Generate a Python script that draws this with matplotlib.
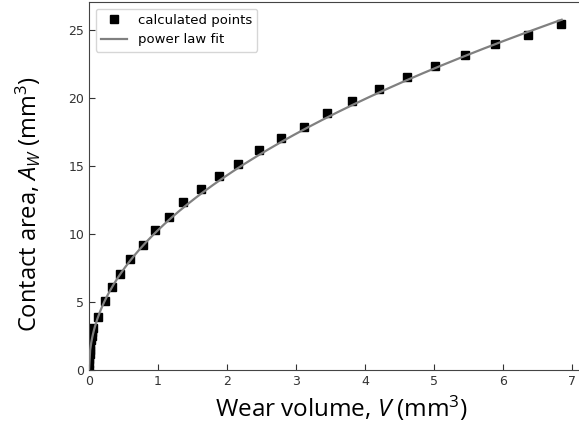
import numpy as np
import matplotlib
matplotlib.use("Agg")
import matplotlib.pyplot as plt

# calculated points
wear_volume = [0.0, 0.003, 0.006, 0.01, 0.015, 0.02, 0.03, 0.04, 0.05, 0.065,
               0.13, 0.23, 0.33, 0.45, 0.59, 0.78, 0.96, 1.16, 1.36, 1.62,
               1.88, 2.16, 2.46, 2.78, 3.12, 3.45, 3.81, 4.20, 4.61, 5.01,
               5.45, 5.88, 6.36, 6.84]
contact_area = [0.0, 0.5, 0.8, 1.2, 1.5, 1.8, 2.2, 2.5, 2.8, 3.1,
                3.9, 5.1, 6.1, 7.1, 8.2, 9.2, 10.3, 11.3, 12.35, 13.3,
                14.3, 15.2, 16.2, 17.1, 17.9, 18.9, 19.8, 20.7, 21.6, 22.4,
                23.2, 24.0, 24.7, 25.5]

# power law fit A = a * V**b
fit_a = 10.3
fit_b = 0.477

plt.rcParams['mathtext.fontset'] = 'custom'
plt.rcParams['mathtext.rm'] = 'Open Sans'
plt.rcParams['mathtext.it'] = 'Open Sans:italic'

fig = plt.figure(figsize=(5.79, 4.32), dpi=100)
ax = fig.add_axes([0.1537, 0.1435, 0.87, 0.852])

v_fit = np.linspace(0, 6.85, 400)
ax.plot(wear_volume, contact_area, 's', color='black', markersize=6.2,
        label='calculated points', zorder=2)
ax.plot(v_fit, fit_a * v_fit ** fit_b, '-', color='#808080', lw=1.6,
        label='power law fit', zorder=3)

ax.set_xlim(0, 7.3)
ax.set_ylim(0, 27.1)
ax.set_xticks(range(0, 8))
ax.set_yticks(range(0, 30, 5))
ax.tick_params(direction='in', labelsize=9, length=4, colors='#333333')
for s in ax.spines.values():
    s.set_color('#444444')

ax.set_xlabel(r'Wear volume, $V$ (mm$^3$)', fontsize=17.5, family='Open Sans')
ax.set_ylabel(r'Contact area, $A_W$ (mm$^3$)', fontsize=17, family='Open Sans')
ax.yaxis.set_label_coords(-0.092, 0.45)
ax.legend(loc='upper left', fontsize=9.5, frameon=True)

fig.savefig('out.png', dpi=100)
